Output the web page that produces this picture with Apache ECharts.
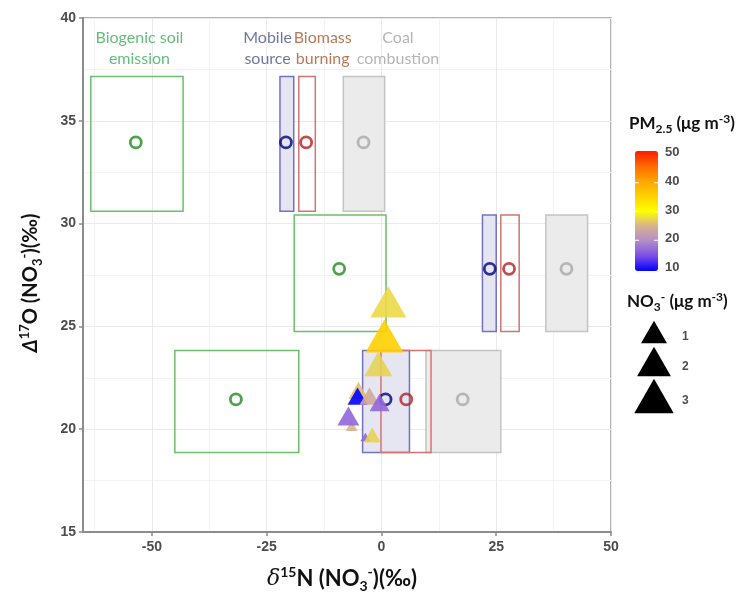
<!DOCTYPE html>
<html><head><meta charset="utf-8">
<script src="https://cdn.jsdelivr.net/npm/echarts@6/dist/echarts.min.js"></script>
<style>html,body{margin:0;padding:0;background:#fff}#c{width:739px;height:599px}</style>
</head><body><div id="c"></div>
<script>
// ---- axis ticks ----
const xTicks = [-50, -25, 0, 25, 50];
const xMinorTicks = [-62.5, -37.5, -12.5, 12.5, 37.5];
const yTicks = [15, 20, 25, 30, 35, 40];

// ---- source signatures: means [d15N, D17O] and ranges [xmin, xmax, ymin, ymax] ----
const soilMeans = [[-53.5, 33.95], [-9.2, 27.8], [-31.7, 21.45]];
const soilRanges = [[-63.3, -43.2, 30.6, 37.15], [-19.0, 1.0, 24.75, 30.42], [-45.0, -18.0, 18.87, 23.83]];
const mobileMeans = [[-20.8, 33.95], [23.6, 27.8], [0.9, 21.45]];
const mobileRanges = [[-22.1, -19.1, 30.6, 37.15], [22.0, 25.0, 24.75, 30.42], [-4.1, 6.1, 18.87, 23.83]];
const biomassMeans = [[-16.4, 33.95], [27.8, 27.8], [5.4, 21.45]];
const biomassRanges = [[-18.0, -14.4, 30.6, 37.15], [26.0, 30.0, 24.75, 30.42], [-0.1, 10.8, 18.87, 23.83]];
const coalMeans = [[-3.9, 33.95], [40.3, 27.8], [17.7, 21.45]];
const coalRanges = [[-8.3, 0.7, 30.6, 37.15], [35.8, 44.9, 24.75, 30.42], [9.7, 26.0, 18.87, 23.83]];

// ---- source labels ----
const srcLabelText = ['Biogenic soil\nemission', 'Mobile\nsource', 'Biomass\nburning', 'Coal\ncombustion'];
const srcLabelX = [-52.7, -24.8, -12.8, 3.6];
const srcLabelY = [38.5, 38.5, 38.5, 38.5];
const srcLabelColor = ['#3DAE5A', '#4A5788', '#A5582F', '#A3A3A3'];

// ---- observations ----
const obsD15N = [1.5, 0.65, -0.7, -5.0, -5.2, -2.6, -0.4, -6.5, -7.2, -3.5, -2.0];
const obsD17O = [26.19, 24.53, 23.17, 21.89, 21.61, 21.61, 21.3, 20.16, 20.64, 19.62, 19.72];
const obsPM25 = [27.5, 35, 27, 26, 10, 24, 17, 25, 17, 17, 27];
const obsNO3 = [2.36, 2.71, 1.22, 0.5, 0.5, 0.5, 0.5, 0.13, 0.64, 0.08, 0.33];

// ---- legends ----
const pmTicks = [50, 40, 30, 20, 10];
const pmColors = ['#0000FF', '#7A4FE6', '#B48CC8', '#D6B28E', '#FFFF00', '#FFD000', '#FFA500', '#FF6A00', '#FF1A00'];
const no3LegendValues = [1, 2, 3];

function triW(v) { return 26 * Math.pow(v, 0.38); }

const obsData = obsD15N.map((x, i) => [x, obsD17O[i], obsPM25[i], obsNO3[i]]);

function rectSeries(ranges, fill, stroke) {
  return {
    type: 'custom', data: ranges, silent: true, z: 2,
    encode: { x: [0, 1], y: [2, 3] },
    renderItem: function (params, api) {
      const p1 = api.coord([api.value(0), api.value(3)]);
      const p2 = api.coord([api.value(1), api.value(2)]);
      return { type: 'rect', shape: { x: p1[0], y: p1[1], width: p2[0] - p1[0], height: p2[1] - p1[1] },
        style: { fill: fill, stroke: stroke, lineWidth: 1.5 } };
    }
  };
}
function meanSeries(data, color) {
  return { type: 'scatter', data: data, symbol: 'circle', symbolSize: 11, z: 3, silent: true,
    itemStyle: { color: 'rgba(0,0,0,0)', borderColor: color, borderWidth: 2.8 } };
}

const chart = echarts.init(document.getElementById('c'));
const TF = 'Lato, "Open Sans", sans-serif';

const cbLeft = 635, cbTop = 151, cbW = 23, cbH = 120;
const lab = { fontFamily: 'Liberation Sans, Arial', fontWeight: 'bold', fontSize: 13, fill: '#4D4D4D' };

const graphics = [];
pmTicks.forEach(v => {
  const y = cbTop + 3 + (cbH - 5) * (50 - v) / 40;
  graphics.push({ type: 'text', left: cbLeft + cbW + 7, top: y - 8, style: Object.assign({ text: String(v) }, lab) });
  if (v !== 50 && v !== 10) {
    graphics.push({ type: 'line', shape: { x1: cbLeft, y1: y, x2: cbLeft + 4, y2: y }, style: { stroke: '#fff', lineWidth: 1 }, z: 100 });
    graphics.push({ type: 'line', shape: { x1: cbLeft + cbW - 4, y1: y, x2: cbLeft + cbW, y2: y }, style: { stroke: '#fff', lineWidth: 1 }, z: 100 });
  }
});
const titleRich = {
  b: { fontFamily: TF, fontWeight: 'bold', fontSize: 17, fill: '#111', lineHeight: 22 },
  bs: { fontFamily: TF, fontWeight: 'bold', fontSize: 12, fill: '#111', verticalAlign: 'bottom', lineHeight: 11 },
  bp: { fontFamily: TF, fontWeight: 'bold', fontSize: 12, fill: '#111', verticalAlign: 'top', lineHeight: 11 }
};
graphics.push({ type: 'text', left: 629, top: 113, style: { text: '{b|PM}{bs|2.5}{b| (μg m}{bp|-3}{b|)}', rich: titleRich } });
graphics.push({ type: 'text', left: 627, top: 291, style: { text: '{b|NO}{bs|3}{bp|-}{b| (μg m}{bp|-3}{b|)}', rich: titleRich } });
const legCy = [332, 361.5, 396];
no3LegendValues.forEach((v, i) => {
  const w = triW(v), h = w * 0.87, cx = 654, cy = legCy[i];
  graphics.push({ type: 'polygon', shape: { points: [[cx, cy - h / 2], [cx + w / 2, cy + h / 2], [cx - w / 2, cy + h / 2]] }, style: { fill: '#000' } });
  graphics.push({ type: 'text', left: 682, top: cy - 1, style: Object.assign({ text: String(v) }, lab, { fontSize: 12 }) });
});

const option = {
  animation: false,
  backgroundColor: '#fff',
  grid: { left: 83, top: 18, width: 528, height: 514, show: true, borderColor: '#999', borderWidth: 1.5 },
  xAxis: [{
    type: 'value', min: -65, max: 50,
    axisLine: { show: true, onZero: false, lineStyle: { color: '#8C8C8C', width: 2 } },
    axisTick: { show: true, length: 4, customValues: xTicks, lineStyle: { color: '#8C8C8C', width: 1.5 } },
    axisLabel: { customValues: xTicks, color: '#4D4D4D', fontWeight: 'bold', fontSize: 14, fontFamily: 'Liberation Sans, Arial', margin: 8 },
    splitLine: { show: true, lineStyle: { color: '#EAEAEA', width: 1 } },
    name: '{d|δ}{sup|15}{n|N (NO}{sub|3}{sup|-}{n|)(‰)}',
    nameLocation: 'middle', nameGap: 33,
    nameTextStyle: {
      padding: [0, 10, 0, 0],
      rich: {
        d: { fontFamily: 'DejaVu Serif', fontStyle: 'italic', fontSize: 22, color: '#111', lineHeight: 28 },
        n: { fontFamily: TF, fontWeight: 'bold', fontSize: 22, color: '#111', lineHeight: 28 },
        sup: { fontFamily: TF, fontWeight: 'bold', fontSize: 14, color: '#111', verticalAlign: 'top', lineHeight: 14 },
        sub: { fontFamily: TF, fontWeight: 'bold', fontSize: 14, color: '#111', verticalAlign: 'bottom', lineHeight: 14 }
      }
    }
  }, {
    type: 'value', min: -65, max: 50, position: 'top',
    axisLine: { show: false }, axisTick: { show: false, customValues: xMinorTicks }, axisLabel: { show: false },
    splitLine: { show: true, lineStyle: { color: '#F3F3F3', width: 1 } }
  }],
  yAxis: {
    type: 'value', min: 15, max: 40, interval: 5,
    axisLine: { show: true, onZero: false, lineStyle: { color: '#8C8C8C', width: 2 } },
    axisTick: { show: true, length: 4, lineStyle: { color: '#8C8C8C', width: 1.5 } },
    axisLabel: { color: '#4D4D4D', fontWeight: 'bold', fontSize: 14, fontFamily: 'Liberation Sans, Arial', margin: 7 },
    splitLine: { show: true, lineStyle: { color: '#EAEAEA', width: 1 } },
    minorTick: { show: false, splitNumber: 2 },
    minorSplitLine: { show: true, lineStyle: { color: '#F3F3F3', width: 1 } },
    name: '{d|Δ}{sup|17}{n|O (NO}{sub|3}{sup|-}{n|)(‰)}',
    nameLocation: 'middle', nameGap: 39, nameRotate: 90,
    nameTextStyle: {
      padding: [0, 16, 0, 0],
      rich: {
        d: { fontFamily: TF, fontStyle: 'italic', fontWeight: 'bold', fontSize: 20, color: '#111', lineHeight: 26 },
        n: { fontFamily: TF, fontWeight: 'bold', fontSize: 20, color: '#111', lineHeight: 26 },
        sup: { fontFamily: TF, fontWeight: 'bold', fontSize: 13, color: '#111', verticalAlign: 'top', lineHeight: 13 },
        sub: { fontFamily: TF, fontWeight: 'bold', fontSize: 13, color: '#111', verticalAlign: 'bottom', lineHeight: 13 }
      }
    }
  },
  visualMap: {
    type: 'continuous', min: 10, max: 50, dimension: 2, seriesIndex: 8,
    inRange: { color: pmColors },
    left: cbLeft, top: cbTop, itemWidth: cbW, itemHeight: cbH, padding: 0,
    calculable: false, text: null, hoverLink: false
  },
  graphic: graphics,
  series: [
    rectSeries(soilRanges, 'none', '#6CBF6C'),
    rectSeries(coalRanges, '#EBEBEB', '#C4C4C4'),
    rectSeries(mobileRanges, '#E6E6F3', '#7272C2'),
    rectSeries(biomassRanges, 'none', '#D27474'),
    meanSeries(soilMeans, '#228B22'),
    meanSeries(mobileMeans, '#000080'),
    meanSeries(biomassMeans, '#B22222'),
    meanSeries(coalMeans, '#A9A9A9'),
    {
      type: 'scatter', data: obsData, symbol: 'triangle', z: 5,
      symbolSize: function (val) { const w = triW(val[3]); return [w, w * 0.87]; },
      itemStyle: { opacity: 0.9 }
    },
    {
      type: 'scatter', symbolSize: 0, silent: true, z: 6,
      data: srcLabelText.map((t, i) => ({ name: t, value: [srcLabelX[i], srcLabelY[i]], label: { color: srcLabelColor[i] } })),
      label: { show: true, position: 'inside', formatter: p => p.name, fontFamily: TF, fontSize: 16, lineHeight: 21 }
    }
  ]
};
chart.setOption(option);
</script></body></html>
